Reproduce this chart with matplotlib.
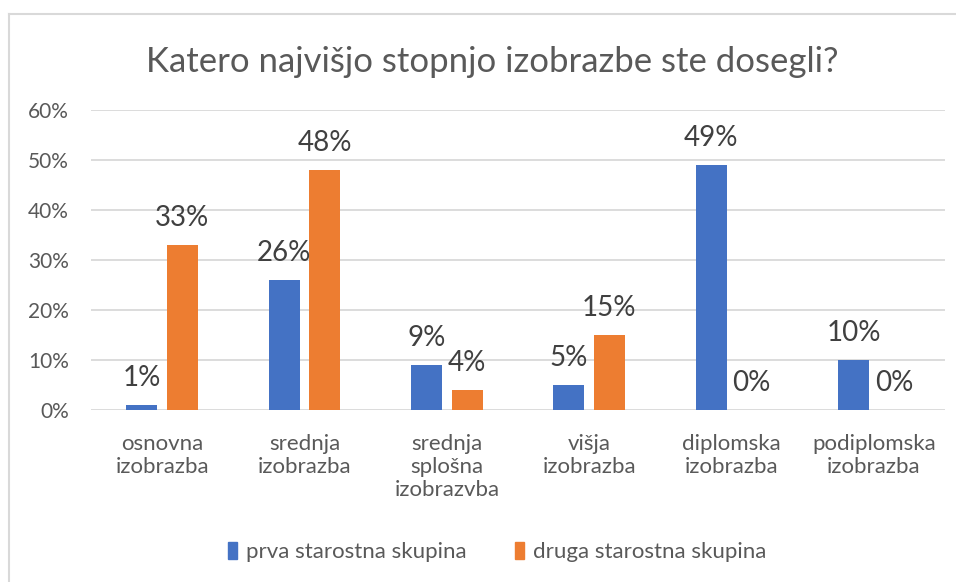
import matplotlib.pyplot as plt
import numpy as np
from matplotlib.patches import Patch
from matplotlib.ticker import PercentFormatter

plt.rcParams['font.family'] = ['Lato', 'DejaVu Sans']

# podatki
kategorije = ["osnovna\nizobrazba", "srednja\nizobrazba", "srednja\nsplošna\nizobrazvba",
              "višja\nizobrazba", "diplomska\nizobrazba", "podiplomska\nizobrazba"]
prva = [1, 26, 9, 5, 49, 10]
druga = [33, 48, 4, 15, 0, 0]
serije = ["prva starostna skupina", "druga starostna skupina"]
barve = ["#4472C4", "#ED7D31"]

fig = plt.figure(figsize=(9.56, 5.82), dpi=100)
ax = fig.add_axes([91 / 956, 1 - 410 / 582, (945 - 91) / 956, 300 / 582])

x = np.arange(len(kategorije))
w = 0.218
off = 0.142
for vals, dx, c in [(prva, -off, barve[0]), (druga, off, barve[1])]:
    bars = ax.bar(x + dx, vals, width=w, color=c, zorder=3)
    for b, v in zip(bars, vals):
        ax.annotate(f"{v}%", (b.get_x() + b.get_width() / 2, v),
                    xytext=(0, 14), textcoords="offset points",
                    ha="center", va="baseline", fontsize=20, color="#404040", zorder=4)

ax.set_xlim(-0.5, len(kategorije) - 0.5)
ax.set_ylim(0, 60)
ax.set_yticks(range(0, 61, 10))
ax.yaxis.set_major_formatter(PercentFormatter(decimals=0))
ax.grid(axis="y", color="#d9d9d9", linewidth=1.3, zorder=0)
for s in ["top", "right", "left", "bottom"]:
    ax.spines[s].set_visible(False)
ax.tick_params(axis="y", length=0, pad=16, labelsize=15, labelcolor="#595959")
ax.tick_params(axis="x", length=0, pad=17, labelsize=16, labelcolor="#595959")
ax.set_xticks(x)
ax.set_xticklabels(kategorije, linespacing=1.2, va="top")

fig.text(492 / 956, 1 - 62 / 582, "Katero najvišjo stopnjo izobrazbe ste dosegli?",
         ha="center", va="center", fontsize=25, color="#595959")

handles = [Patch(color=barve[0]), Patch(color=barve[1])]
fig.legend(handles, serije, loc="center", bbox_to_anchor=(497 / 956, 1 - 552 / 582),
           ncol=2, frameon=False, fontsize=16, labelcolor="#595959",
           handlelength=0.4, handleheight=0.85, handletextpad=0.4, columnspacing=2.2)

# okvir grafikona
fig.add_artist(plt.Line2D([9 / 956, 1], [1 - 14 / 582] * 2, color="#d9d9d9", linewidth=1.5))
fig.add_artist(plt.Line2D([9 / 956] * 2, [0, 1 - 14 / 582], color="#d9d9d9", linewidth=1.5))

fig.savefig("out.png", dpi=100)
